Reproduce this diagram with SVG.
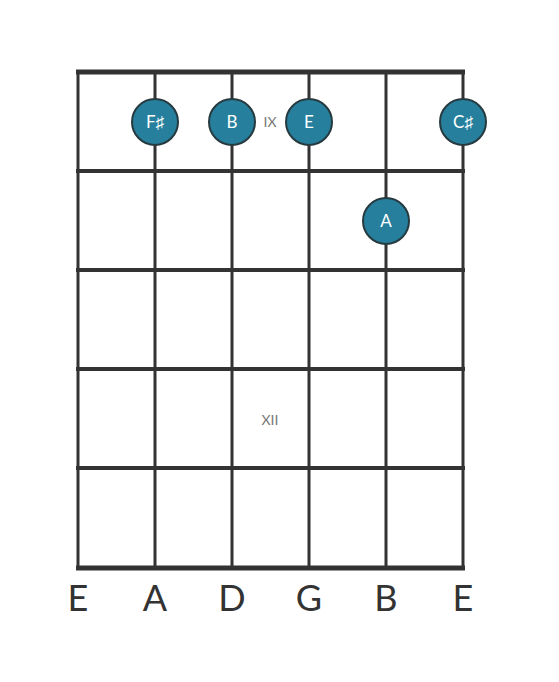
<svg xmlns="http://www.w3.org/2000/svg" width="559" height="682" viewBox="0 0 559 682">
<style>
.str{stroke:#333;stroke-width:3}
.fret{stroke:#333;stroke-width:4}
.nut{stroke:#333;stroke-width:5}
.note circle{fill:#267f9c;stroke:#263a40;stroke-width:2}
.note text{fill:#fff;font-family:Lato,'Open Sans',sans-serif;font-size:17px;text-anchor:middle}
.fl{fill:#777;font-family:Lato,'Open Sans',sans-serif;font-size:14px;text-anchor:middle}
.sn{fill:#333;font-family:Lato,'Open Sans',sans-serif;font-size:36px;text-anchor:middle}
</style>
<rect width="559" height="682" fill="#fff"/>
<g id="fretboard">
<line class="str" x1="78" y1="72" x2="78" y2="568"/>
<line class="str" x1="155" y1="72" x2="155" y2="568"/>
<line class="str" x1="232" y1="72" x2="232" y2="568"/>
<line class="str" x1="309" y1="72" x2="309" y2="568"/>
<line class="str" x1="386" y1="72" x2="386" y2="568"/>
<line class="str" x1="463" y1="72" x2="463" y2="568"/>
<line class="nut" x1="76" y1="72" x2="465" y2="72"/>
<line class="fret" x1="76" y1="171" x2="465" y2="171"/>
<line class="fret" x1="76" y1="270" x2="465" y2="270"/>
<line class="fret" x1="76" y1="369" x2="465" y2="369"/>
<line class="fret" x1="76" y1="468" x2="465" y2="468"/>
<line class="nut" x1="76" y1="568" x2="465" y2="568"/>
</g>
<g id="fret-labels">
<text class="fl" x="270" y="127">IX</text>
<text class="fl" x="270" y="425">XII</text>
</g>
<g id="note-Fs" class="note"><circle cx="155" cy="122" r="23"/><text x="155" y="128">F♯</text></g>
<g id="note-B" class="note"><circle cx="232" cy="122" r="23"/><text x="232" y="128">B</text></g>
<g id="note-E" class="note"><circle cx="309" cy="122" r="23"/><text x="309" y="128">E</text></g>
<g id="note-Cs" class="note"><circle cx="463" cy="122" r="23"/><text x="463" y="128">C♯</text></g>
<g id="note-A" class="note"><circle cx="386" cy="221" r="23"/><text x="386" y="227">A</text></g>
<g id="string-names">
<text class="sn" x="78" y="611">E</text>
<text class="sn" x="155" y="611">A</text>
<text class="sn" x="232" y="611">D</text>
<text class="sn" x="309" y="611">G</text>
<text class="sn" x="386" y="611">B</text>
<text class="sn" x="463" y="611">E</text>
</g>
<g id="connectors"/>
</svg>
